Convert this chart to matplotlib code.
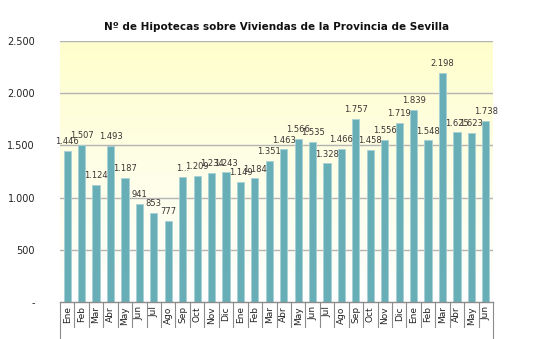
import matplotlib
matplotlib.use("Agg")
import matplotlib.pyplot as plt
import numpy as np
from matplotlib.colors import LinearSegmentedColormap
from matplotlib.lines import Line2D

months = ["Ene", "Feb", "Mar", "Abr", "May", "Jun", "Jul", "Ago", "Sep", "Oct", "Nov", "Dic",
          "Ene", "Feb", "Mar", "Abr", "May", "Jun", "Jul", "Ago", "Sep", "Oct", "Nov", "Dic",
          "Ene", "Feb", "Mar", "Abr", "May", "Jun"]
values = [1446, 1507, 1124, 1493, 1187, 941, 853, 777, 1195, 1209, 1234, 1243,
          1149, 1184, 1351, 1463, 1566, 1535, 1328, 1466, 1757, 1458, 1556, 1719,
          1839, 1548, 2198, 1625, 1623, 1738]
yticks = [0, 500, 1000, 1500, 2000, 2500]
ytick_labels = ["-", "500", "1.000", "1.500", "2.000", "2.500"]
title = "Nº de Hipotecas sobre Viviendas de la Provincia de Sevilla"

def fmt(v):
    return f"{v:,}".replace(",", ".")

labels = [fmt(v) for v in values]
labels[8] = "1..."

fig = plt.figure(figsize=(5.34, 3.39), dpi=100)
ax = fig.add_axes([60/534, 1-302/339, 433/534, 261/339])
n = len(values)
x = np.arange(n)
ax.set_xlim(-0.5, n-0.5)
ax.set_ylim(0, 2500)

# gradient background
cmap = LinearSegmentedColormap.from_list("bg", ["#FFFFFF", "#FEFEE8", "#FFFFCC"])
grad = np.linspace(0, 1, 256).reshape(-1, 1)
ax.imshow(grad, extent=[-0.5, n-0.5, 0, 2500], origin="lower", aspect="auto",
          cmap=cmap, zorder=0)

for yt in yticks[1:]:
    ax.axhline(yt, color="#B4B4B4", lw=1.0, zorder=1)

ax.bar(x, values, width=0.5, color="#68AEB7", edgecolor="#A8D0D5", linewidth=0.6, zorder=2)

for xi, v, lab in zip(x, values, labels):
    ax.text(xi, v + 45, lab, ha="center", va="bottom", fontsize=6, color="#3C3434",
            family="DejaVu Sans", zorder=3)

ax.set_yticks(yticks)
ax.set_yticklabels(ytick_labels, fontsize=7, color="#222222")
ax.tick_params(axis="y", length=0, pad=18)
ax.set_xticks(x)
ax.set_xticklabels(months, rotation=90, fontsize=6.5, color="#222222")
ax.tick_params(axis="x", length=0, pad=3)

for s in ["top", "right", "left"]:
    ax.spines[s].set_visible(False)
ax.spines["bottom"].set_color("#8C8C8C")
ax.spines["bottom"].set_linewidth(1.0)

# category separators below axis
for i in range(n + 1):
    xb = i - 0.5
    y0 = 0
    y1 = -25/261 if 0 < i < n else -36/261
    ax.add_line(Line2D([xb, xb], [0, y1 * 2500], color="#8C8C8C", lw=0.8,
                       clip_on=False, zorder=3))

ax.set_title(title, fontsize=7.5, fontweight="bold", color="#111111", pad=8)

fig.savefig("out.png", dpi=100, facecolor="white")
